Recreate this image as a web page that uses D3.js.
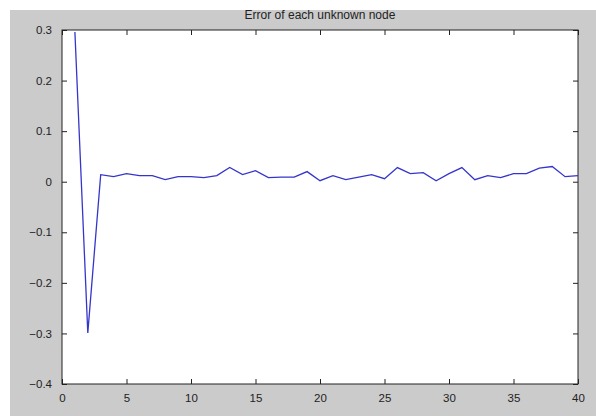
<!DOCTYPE html>
<html><head><meta charset="utf-8">
<script src="https://cdn.jsdelivr.net/npm/d3@7"></script>
<style>html,body{margin:0;padding:0;background:#fff;}svg{display:block;}</style>
</head><body>
<script>
const title = "Error of each unknown node";
const nodeIndex = d3.range(1, 41);
const errorValues = [0.296, -0.299, 0.014, 0.010, 0.016, 0.012, 0.012, 0.004, 0.010, 0.010,
  0.008, 0.012, 0.028, 0.014, 0.022, 0.008, 0.009, 0.009, 0.020, 0.002,
  0.012, 0.004, 0.009, 0.014, 0.006, 0.028, 0.016, 0.018, 0.002, 0.016,
  0.028, 0.004, 0.012, 0.008, 0.016, 0.016, 0.027, 0.030, 0.010, 0.012];
const xTicks = [0, 5, 10, 15, 20, 25, 30, 35, 40];
const yTicks = [-0.4, -0.3, -0.2, -0.1, 0, 0.1, 0.2, 0.3];

const W = 596, H = 416;
const m = {left: 62, right: 578, top: 30, bottom: 384};
const svg = d3.select("body").append("svg").attr("width", W).attr("height", H);
svg.append("rect").attr("x", 10).attr("y", 10).attr("width", W - 10).attr("height", H - 10).attr("fill", "#cbcbcb");

const x = d3.scaleLinear().domain([0, 40]).range([m.left, m.right]);
const y = d3.scaleLinear().domain([-0.4, 0.3]).range([m.bottom, m.top]);

svg.append("rect").attr("x", m.left).attr("y", m.top).attr("width", m.right - m.left).attr("height", m.bottom - m.top)
  .attr("fill", "#fff");

const font = "'Liberation Sans', Arial, sans-serif";
const fmt = d => d === 0 ? "0" : d3.format(".1f")(d);

const tick = 5;
function styleAxis(g) {
  g.select(".domain").remove();
  g.selectAll("line").attr("stroke", "#222");
  g.selectAll("text").attr("font-family", font).attr("font-size", "11.5px").attr("fill", "#222");
}
svg.append("g").attr("transform", `translate(0,${m.bottom})`)
  .call(d3.axisBottom(x).tickValues(xTicks).tickSize(-tick).tickPadding(tick + 5).tickFormat(d3.format("d")))
  .call(styleAxis);
svg.append("g").attr("transform", `translate(0,${m.top})`)
  .call(d3.axisTop(x).tickValues(xTicks).tickSize(-tick).tickFormat(""))
  .call(styleAxis);
svg.append("g").attr("transform", `translate(${m.left},0)`)
  .call(d3.axisLeft(y).tickValues(yTicks).tickSize(-tick).tickPadding(tick + 5).tickFormat(fmt))
  .call(styleAxis);
svg.append("g").attr("transform", `translate(${m.right},0)`)
  .call(d3.axisRight(y).tickValues(yTicks).tickSize(-tick).tickFormat(""))
  .call(styleAxis);

svg.append("rect").attr("x", m.left).attr("y", m.top).attr("width", m.right - m.left).attr("height", m.bottom - m.top)
  .attr("fill", "none").attr("stroke", "#222").attr("stroke-width", 1);

const line = d3.line().x((d, i) => x(nodeIndex[i])).y(d => y(d));
svg.append("path").datum(errorValues).attr("d", line).attr("fill", "none")
  .attr("stroke", "#3535cc").attr("stroke-width", 1.3);

svg.append("text").attr("x", (m.left + m.right) / 2).attr("y", 19).attr("text-anchor", "middle")
  .attr("font-family", font).attr("font-size", "12px").attr("fill", "#222").text(title);
</script>
</body></html>
